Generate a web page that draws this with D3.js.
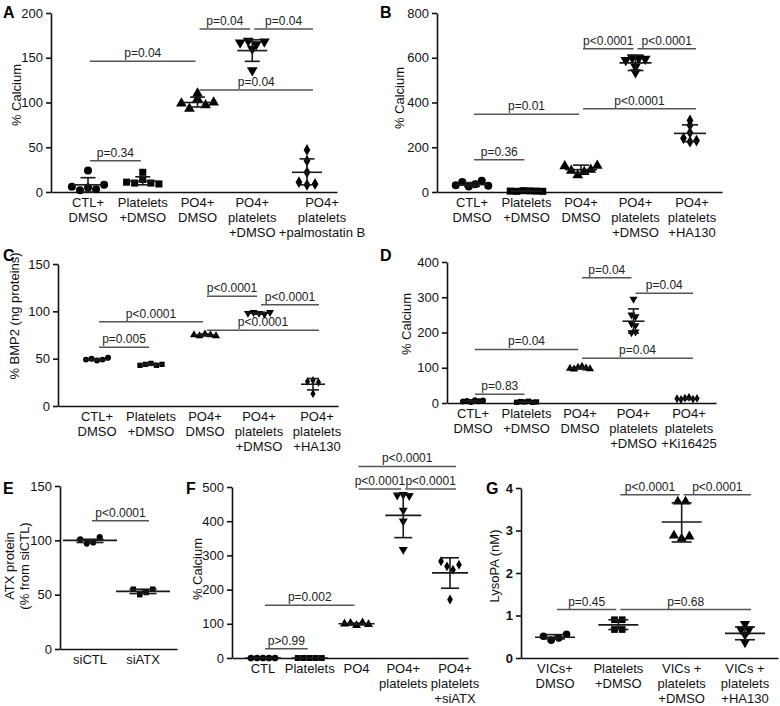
<!DOCTYPE html>
<meta charset="utf-8">
<style>
body { margin: 0; background: #fff; }
svg { font-family: Arial, "Liberation Sans", sans-serif; }
.axis path, .axis line { stroke: #111; stroke-width: 1.6px; }
.axis text { font-size: 13px; fill: #111; }
.sig { stroke: #555; stroke-width: 1.5px; }
.err { stroke: #1a1a1a; stroke-width: 1.6px; }
</style>
<body>
<script src="https://d3js.org/d3.v7.min.js"></script>
<script>
// ---- values ----
// A
var catsA = [["CTL+","DMSO"],["Platelets","+DMSO"],["PO4+","DMSO"],["PO4+","platelets","+DMSO"],["PO4+","platelets","+palmostatin B"]];
var ticksA = [0, 50, 100, 150, 200];
var ptsA = [[6, 2, 24, 5, 3, 8], [11, 10, 22, 14, 10, 9], [99, 110, 93, 104, 97, 100], [167, 169, 165, 136, 160, 168], [11, 35, 8, 47, 22, 9]];
var meanA = [8, 12, 100, 158, 22];
var sdA = [[0, 16], [8, 17], [95, 106], [146, 170], [8, 37]];
var pA = [[0, 1, 35, "p=0.34"], [0, 2, 146, "p=0.04"], [2, 4, 114, "p=0.04"], [2, 3, 182, "p=0.04"], [3, 4, 182, "p=0.04"]];
// B
var catsB = [["CTL+","DMSO"],["Platelets","+DMSO"],["PO4+","DMSO"],["PO4+","platelets","+DMSO"],["PO4+","platelets","+HA130"]];
var ticksB = [0, 200, 400, 600, 800];
var ptsB = [[30, 45, 25, 35, 50, 28], [4, 3, 6, 5, 4, 3], [115, 95, 75, 90, 100, 118], [590, 600, 535, 598, 560, 595], [240, 320, 225, 298, 230, 265]];
var meanB = [33, 4, 100, 577, 262];
var sdB = [[25, 42], [2, 6], [85, 120], [543, 612], [225, 300]];
var pB = [[0, 1, 144, "p=0.36"], [0, 2, 347, "p=0.01"], [2, 4, 372, "p<0.0001"], [2, 3, 640, "p<0.0001"], [3, 4, 640, "p<0.0001"]];
// C
var catsC = [["CTL+","DMSO"],["Platelets","+DMSO"],["PO4+","DMSO"],["PO4+","platelets","+DMSO"],["PO4+","platelets","+HA130"]];
var ticksC = [0, 50, 100, 150];
var ptsC = [[49, 50, 48, 49, 51], [43, 44, 45, 43, 44], [75, 74, 76, 75, 74], [98, 99, 98, 97, 99], [26, 13, 27, 25]];
var meanC = [49, 44, 75, 98, 23];
var sdC = [[48, 50], [43, 45], [74, 76], [97, 99], [17, 29]];
var pC = [[0, 1, 62, "p=0.005"], [0, 2, 89, "p<0.0001"], [2, 4, 80, "p<0.0001"], [2, 3, 116, "p<0.0001"], [3, 4, 107, "p<0.0001"]];
// D
var catsD = [["CTL+","DMSO"],["Platelets","+DMSO"],["PO4+","DMSO"],["PO4+","platelets","+DMSO"],["PO4+","platelets","+Ki16425"]];
var ticksD = [0, 100, 200, 300, 400];
var ptsD = [[4, 6, 3, 8, 5, 7], [2, 4, 3, 5, 2, 3], [98, 96, 101, 104, 99, 97], [225, 220, 200, 295, 250, 245, 202], [12, 10, 14, 16, 11, 13]];
var meanD = [5, 3, 99, 232, 12];
var sdD = [[3, 7], [2, 4], [97, 102], [198, 267], [10, 14]];
var pD = [[0, 1, 25, "p=0.83"], [0, 2, 152, "p=0.04"], [2, 4, 127, "p=0.04"], [2, 3, 355, "p=0.04"], [3, 4, 311, "p=0.04"]];
// E
var catsE = [["siCTL"], ["siATX"]];
var ticksE = [0, 50, 100, 150];
var ptsE = [[101, 97, 98, 103], [55, 50, 52, 55]];
var meanE = [100, 53];
var sdE = [[98, 101], [51, 55]];
var pE = [[0, 1, 118, "p<0.0001"]];
// F
var catsF = [["CTL"], ["Platelets"], ["PO4"], ["PO4+","platelets"], ["PO4+","platelets","+siATX"]];
var ticksF = [0, 100, 200, 300, 400, 500];
var ptsF = [[0, 0, 0, 0, 0], [0, 0, 0, 0, 0], [100, 102, 95, 103, 98], [476, 478, 474, 432, 400, 317], [283, 268, 171, 258, 273]];
var meanF = [0, 0, 100, 417, 249];
var sdF = [[0, 0], [0, 0], [97, 102], [352, 480], [204, 293]];
var pF = [[0, 1, 27, "p>0.99"], [0, 2, 154, "p=0.002"], [2, 3, 494, "p<0.0001"], [3, 4, 494, "p<0.0001"], [2, 4, 560, "p<0.0001"]];
// G
var catsG = [["VICs+","DMSO"], ["Platelets","+DMSO"], ["VICs +","platelets","+DMSO"], ["VICs +","platelets","+HA130"]];
var ticksG = [0, 1, 2, 3, 4];
var ptsG = [[0.51, 0.42, 0.47, 0.56], [0.90, 0.90, 0.67, 0.67], [3.68, 3.68, 2.88, 2.81, 2.86], [0.67, 0.67, 0.80, 0.55, 0.37]];
var meanG = [0.49, 0.78, 3.2, 0.58];
var sdG = [[0.45, 0.55], [0.67, 0.90], [2.73, 3.65], [0.43, 0.73]];
var pG = [[0, 1, 1.14, "p=0.45"], [1, 3, 1.14, "p=0.68"], [1, 2, 3.84, "p<0.0001"], [2, 3, 3.84, "p<0.0001"]];

var svg = d3.select("body").append("svg")
    .attr("width", 780)
    .attr("height", 706);

// marker shapes
var shapes = {
  circle: d3.symbolCircle, square: d3.symbolSquare, up: d3.symbolTriangle,
  down: d3.symbolTriangle, diamond: d3.symbolDiamond
};

function drawPanel(o) {
  var g = svg.append("g");
  var top = o.ticks[o.ticks.length - 1];
  var y = d3.scaleLinear().domain([0, top]).range([o.yb, o.yt]);
  var x = d3.scalePoint().domain(d3.range(o.cats.length)).range(o.c);

  // y axis
  var ya = g.append("g").attr("class", "axis")
      .attr("transform", "translate(" + o.x0 + ",0)")
      .call(d3.axisLeft(y).tickValues(o.ticks).tickSize(5).tickSizeOuter(0).tickPadding(3)
            .tickFormat(d3.format("d")));
  if (o.boldTicks) ya.selectAll("text").style("font-weight", "bold");

  // x axis (no ticks)
  g.append("g").attr("class", "axis")
      .attr("transform", "translate(0," + o.yb + ")")
      .call(d3.axisBottom(d3.scaleLinear().range([o.x0, o.x1])).tickValues([]).tickSizeOuter(0));

  // category labels
  o.cats.forEach(function(lines, i) {
    var dx = (i === o.cats.length - 1 && o.lastDx) ? o.lastDx : 0;
    var t = g.append("text")
        .attr("text-anchor", "middle")
        .attr("font-size", "13px")
        .attr("fill", "#111");
    lines.forEach(function(s, k) {
      t.append("tspan").attr("x", x(i) + dx).attr("y", o.yb + 15 + k * 15).text(s);
    });
  });

  // y title
  var tt = g.append("text")
      .attr("transform", "translate(" + o.tx + "," + o.ty + ") rotate(-90)")
      .attr("text-anchor", "middle")
      .attr("font-size", "13px")
      .attr("fill", "#111");
  o.title.forEach(function(s, k) {
    tt.append("tspan").attr("x", 0).attr("y", (k - (o.title.length - 1) / 2) * 15 + 4).text(s);
  });

  // panel letter
  g.append("text")
      .attr("x", o.lx).attr("y", o.ly)
      .attr("font-size", "16px").attr("font-weight", "bold")
      .text(o.letter);

  // points, spread sideways where they pile up
  var step = o.step || (Math.sqrt(o.ms) + 1);
  o.pts.forEach(function(vals, i) {
    var order = d3.range(vals.length).sort(function(a, b) { return vals[a] - vals[b]; });
    var clusters = [], cur = [order[0]];
    for (var k = 1; k < order.length; k++) {
      if (Math.abs(y(vals[order[k]]) - y(vals[order[k - 1]])) < 4) cur.push(order[k]);
      else { clusters.push(cur); cur = [order[k]]; }
    }
    clusters.push(cur);
    var off = [];
    clusters.forEach(function(cl) {
      cl.sort(d3.ascending);
      cl.forEach(function(idx, m) { off[idx] = (m - (cl.length - 1) / 2) * step; });
    });
    var shp = o.shapes[i];
    g.selectAll(null).data(vals).enter().append("path")
        .attr("d", d3.symbol().type(shapes[shp]).size(shp === "diamond" ? o.ms * 0.8 : o.ms))
        .attr("transform", function(d, j) {
          return "translate(" + (x(i) + off[j]) + "," + y(d) + ")" + (shp === "down" ? " rotate(180)" : "");
        })
        .attr("fill", "#000");

    // mean and SD
    var cx = x(i), cw = o.mw * 0.5;
    g.append("line").attr("class", "err")
        .attr("x1", cx - o.mw).attr("x2", cx + o.mw).attr("y1", y(o.mean[i])).attr("y2", y(o.mean[i]));
    g.append("line").attr("class", "err")
        .attr("x1", cx).attr("x2", cx).attr("y1", y(o.sd[i][0])).attr("y2", y(o.sd[i][1]));
    o.sd[i].forEach(function(v) {
      g.append("line").attr("class", "err")
          .attr("x1", cx - cw).attr("x2", cx + cw).attr("y1", y(v)).attr("y2", y(v));
    });
  });

  // significance bars
  o.p.forEach(function(p) {
    var x1 = x(p[0]) + 2, x2 = x(p[1]) + (p[1] === o.cats.length - 1 ? 6 : -2);
    g.append("line").attr("class", "sig")
        .attr("x1", x1).attr("x2", x2).attr("y1", y(p[2])).attr("y2", y(p[2]));
    g.append("text")
        .attr("x", (x1 + x2) / 2).attr("y", y(p[2]) - 4)
        .attr("text-anchor", "middle").attr("font-size", "12px").attr("fill", "#222")
        .text(p[3]);
  });
}

var five = ["circle", "square", "up", "down", "diamond"];

drawPanel({letter: "A", lx: 3, ly: 18, x0: 51, x1: 337, yb: 192, yt: 13, c: [88, 307],
  title: ["% Calcium"], tx: 17, ty: 95, ms: 50, mw: 15, lastDx: 15, shapes: five,
  cats: catsA, ticks: ticksA, pts: ptsA, mean: meanA, sd: sdA, p: pA});

drawPanel({letter: "B", lx: 380, ly: 18, x0: 437, x1: 722, yb: 192, yt: 13, c: [472, 690],
  title: ["% Calcium"], tx: 400, ty: 98, ms: 50, mw: 16, step: 6.5, lastDx: 2, shapes: five,
  cats: catsB, ticks: ticksB, pts: ptsB, mean: meanB, sd: sdB, p: pB});

drawPanel({letter: "C", lx: 3, ly: 261, x0: 58, x1: 338, yb: 406, yt: 264, c: [97, 313],
  title: ["% BMP2 (ng proteins)"], tx: 15, ty: 316, ms: 28, mw: 12, step: 5.5, lastDx: 4, shapes: five,
  cats: catsC, ticks: ticksC, pts: ptsC, mean: meanC, sd: sdC, p: pC});

drawPanel({letter: "D", lx: 380, ly: 261, x0: 447, x1: 716, yb: 403, yt: 262, c: [473, 687],
  title: ["% Calcium"], tx: 407, ty: 324, ms: 28, mw: 11, step: 4, lastDx: 2, shapes: five,
  cats: catsD, ticks: ticksD, pts: ptsD, mean: meanD, sd: sdD, p: pD});

drawPanel({letter: "E", lx: 3, ly: 494, x0: 60, x1: 177, yb: 649, yt: 486, c: [90, 143],
  title: ["ATX protein", "(% from siCTL)"], tx: 17, ty: 566, ms: 30, mw: 27, shapes: ["circle", "square"],
  cats: catsE, ticks: ticksE, pts: ptsE, mean: meanE, sd: sdE, p: pE});

drawPanel({letter: "F", lx: 186, ly: 494, x0: 232, x1: 468, yb: 658, yt: 487, c: [263, 450],
  title: ["% Calcium"], tx: 198, ty: 569, ms: 35, mw: 18, step: 6, lastDx: 5, shapes: five,
  cats: catsF, ticks: ticksF, pts: ptsF, mean: meanF, sd: sdF, p: pF});

drawPanel({letter: "G", lx: 486, ly: 494, x0: 521, x1: 778, yb: 658, yt: 488, c: [555, 745],
  title: ["LysoPA (nM)"], tx: 495, ty: 566, ms: 45, mw: 20, boldTicks: true,
  shapes: ["circle", "square", "up", "down"],
  cats: catsG, ticks: ticksG, pts: ptsG, mean: meanG, sd: sdG, p: pG});
</script>
